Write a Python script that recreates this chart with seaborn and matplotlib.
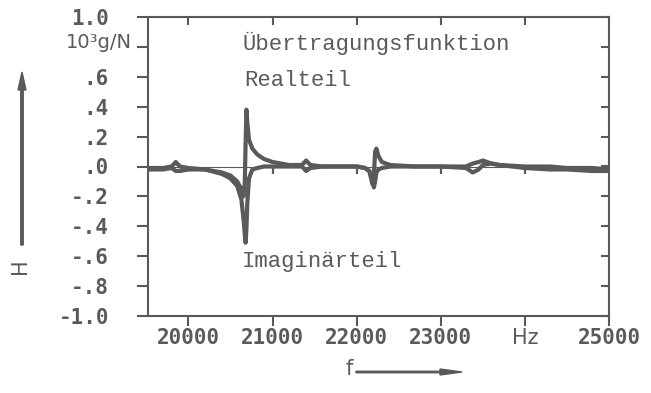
import matplotlib
matplotlib.use("Agg")
import matplotlib.pyplot as plt
import matplotlib.transforms as mtransforms
import seaborn as sns
import pandas as pd
import numpy as np

# ---- data ----
freq = [19520, 19700, 19800, 19850, 19900, 20000, 20200, 20400, 20500, 20580,
        20630, 20655, 20670, 20680, 20690, 20700, 20720, 20760, 20820, 20900,
        21000, 21200, 21350, 21400, 21450, 21600, 21800, 22000, 22100, 22150,
        22190, 22205, 22220, 22235, 22260, 22300, 22400, 22700, 23000, 23300,
        23380, 23450, 23500, 23600, 23700, 24000, 24300, 24500, 24800, 25000]
realteil = [-0.01, -0.01, 0.00, 0.03, 0.00, -0.01, -0.02, -0.04, -0.06, -0.10,
            -0.15, -0.20, -0.12, 0.15, 0.38, 0.30, 0.18, 0.12, 0.08, 0.05,
            0.03, 0.01, 0.01, 0.04, 0.01, 0.00, 0.00, 0.00, -0.01, -0.03,
            -0.12, -0.06, 0.10, 0.12, 0.07, 0.03, 0.01, 0.00, 0.00, 0.00,
            0.02, 0.03, 0.04, 0.02, 0.01, 0.00, 0.00, -0.01, -0.01, -0.02]
imaginaerteil = [-0.02, -0.02, -0.01, -0.03, -0.03, -0.02, -0.02, -0.05, -0.08, -0.13,
                 -0.22, -0.35, -0.45, -0.51, -0.42, -0.25, -0.08, -0.02, -0.01, 0.00,
                 0.00, 0.00, 0.00, -0.03, -0.01, 0.00, 0.00, 0.00, -0.01, -0.03,
                 -0.08, -0.14, -0.10, -0.04, -0.02, -0.01, 0.00, 0.00, 0.00, -0.01,
                 -0.04, -0.02, 0.01, 0.02, 0.01, -0.01, -0.02, -0.02, -0.03, -0.03]

x_ticks = [20000, 21000, 22000, 23000, 24000, 25000]
x_ticklabels = ["20000", "21000", "22000", "23000", "Hz", "25000"]
y_ticks = [1.0, 0.8, 0.6, 0.4, 0.2, 0.0, -0.2, -0.4, -0.6, -0.8, -1.0]
y_ticklabels = ["1.0", "", ".6", ".4", ".2", ".0", "-.2", "-.4", "-.6", "-.8", "-1.0"]

df = pd.DataFrame({
    "f": freq * 2,
    "H": realteil + imaginaerteil,
    "Teil": ["Realteil"] * len(freq) + ["Imaginärteil"] * len(freq),
})

sns.set_theme(style="white")
plt.rcParams["font.family"] = ["DejaVu Sans"]

GRAY = "#5a5a5a"
W, Hpx = 651, 393
fig = plt.figure(figsize=(W / 100, Hpx / 100), dpi=100)
ax = fig.add_axes([148 / W, 1 - 316 / Hpx, (609 - 148) / W, (316 - 17) / Hpx])

ax.axhline(0, color=GRAY, linewidth=0.8, zorder=1)
sns.lineplot(data=df, x="f", y="H", hue="Teil",
             palette={"Realteil": GRAY, "Imaginärteil": GRAY},
             linewidth=3.0, legend=False, ax=ax, zorder=3)

ax.set_xlim(19520, 25000)
ax.set_ylim(-1.0, 1.0)
ax.set_xlabel("")
ax.set_ylabel("")

for s in ax.spines.values():
    s.set_visible(True)
    s.set_color(GRAY)
    s.set_linewidth(1.5)

tick_font = dict(family="DejaVu Sans Mono", weight="bold", size=15)

ax.set_xticks(x_ticks)
ax.set_xticklabels(x_ticklabels)
ax.set_yticks(y_ticks)
ax.set_yticklabels(y_ticklabels)
ax.tick_params(axis="x", direction="out", length=7, width=1.5, color=GRAY,
               labelcolor=GRAY, pad=2, bottom=True, top=False)
ax.tick_params(axis="y", direction="out", length=8, width=1.5, color=GRAY,
               labelcolor=GRAY, pad=20, left=True, right=False)
for lab in ax.get_xticklabels() + ax.get_yticklabels():
    lab.set_fontproperties(matplotlib.font_manager.FontProperties(**tick_font))
for lab in ax.get_xticklabels():
    if lab.get_text() == "Hz":
        lab.set_fontproperties(matplotlib.font_manager.FontProperties(
            family="DejaVu Sans", weight="normal", size=15))

# top ticks (inward), right ticks (inward)
top = ax.secondary_xaxis("top")
top.set_xticks(x_ticks[:-1], labels=[""] * (len(x_ticks) - 1))
top.tick_params(direction="in", length=6, width=1.5, color=GRAY)
for s in top.spines.values():
    s.set_visible(False)
right = ax.secondary_yaxis("right")
right.set_yticks(y_ticks, labels=[""] * len(y_ticks))
right.tick_params(direction="in", length=6, width=1.5, color=GRAY)
for s in right.spines.values():
    s.set_visible(False)

# small tick marks hanging from the zero line
blend = mtransforms.blended_transform_factory(ax.transData, ax.transAxes)
for xt in x_ticks[1:-1]:
    ax.plot([xt, xt], [0.475, 0.5], transform=blend, color=GRAY,
            linewidth=1.6, zorder=5, solid_capstyle="butt")

# unit label at 0.8
fig.text(132 / W, 1 - 43 / Hpx, "10³g/N", ha="right", va="center",
         color=GRAY, family="DejaVu Sans", size=14)

# annotations in typewriter font
tw = dict(family="Liberation Mono", size=16, color=GRAY)
fig.text(243 / W, 1 - 43 / Hpx, "Übertragungsfunktion", ha="left", va="center", **tw)
fig.text(244 / W, 1 - 80 / Hpx, "Realteil", ha="left", va="center", **tw)
fig.text(242 / W, 1 - 262 / Hpx, "Imaginärteil", ha="left", va="center", **tw)

# axis labels with arrows
fig.text(20 / W, 1 - 266 / Hpx, "H", rotation=90, ha="center", va="center",
         color=GRAY, family="DejaVu Sans", size=15)
fig.patches.append(matplotlib.patches.FancyArrow(
    22 / W, 1 - 245 / Hpx, 0, (245 - 72) / Hpx, width=1.5 / Hpx,
    head_width=8 / W, head_length=18 / Hpx, length_includes_head=True,
    color=GRAY, transform=fig.transFigure))
fig.text(349 / W, 1 - 369 / Hpx, "f", ha="center", va="center",
         color=GRAY, family="DejaVu Sans", size=15)
fig.patches.append(matplotlib.patches.FancyArrow(
    356 / W, 1 - 372 / Hpx, (462 - 356) / W, 0, width=1.5 / Hpx,
    head_width=6 / Hpx, head_length=22 / W, length_includes_head=True,
    color=GRAY, transform=fig.transFigure))

fig.savefig("out.png", dpi=100)
